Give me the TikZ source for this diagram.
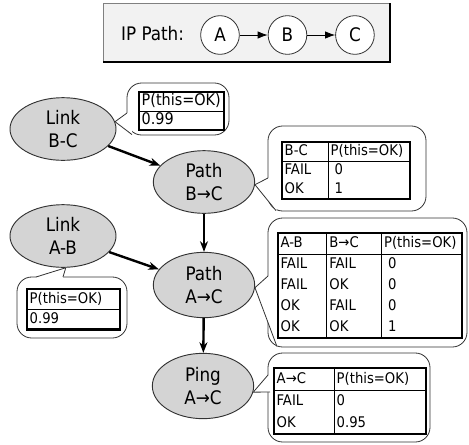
\documentclass[tikz,border=0pt]{standalone}
\usepackage{fontspec}
\setmainfont{DejaVu Sans Condensed}
\usepackage{tikz}
\usetikzlibrary{shapes.geometric,arrows.meta,positioning}
\tikzset{every picture/.style={line width=0.75pt}}
\definecolor{nodegray}{RGB}{212,212,212}
\definecolor{boxgray}{RGB}{242,242,242}
\definecolor{edgegray}{RGB}{50,50,50}
\setlength{\tabcolsep}{2pt}
\tikzset{
  var/.style={ellipse, draw=edgegray, line width=0.7pt, fill=nodegray, inner sep=0pt,
    align=center, font=\fontsize{14}{17}\selectfont},
  hop/.style={circle, draw=edgegray, fill=white, line width=0.6pt, minimum size=29pt,
    inner sep=0pt, font=\fontsize{14}{17}\selectfont},
  dep/.style={-{Stealth[length=8pt,width=6pt]}, line width=1.8pt},
  hoparrow/.style={-{Latex[length=7.5pt,width=5.5pt]}, line width=0.6pt},
  bubble/.style={draw=edgegray, fill=white, line width=0.6pt, rounded corners=11pt},
  tip/.style={draw=edgegray, line width=0.6pt},
  cpt/.style={draw, line width=1.6pt, inner sep=0pt, anchor=north west,
    font=\fontsize{11}{13}\selectfont},
}

\begin{document}
\begin{tikzpicture}[x=0.75pt,y=-0.75pt]
\useasboundingbox (0,0) rectangle (469,444);
% the IP path
\draw[fill=boxgray, draw=gray] (103,3) rectangle (390,62);
\draw[line width=1pt] (103,62) -- (390,62) -- (390,3);
\node[anchor=east, font=\fontsize{14}{17}\selectfont] (iplabel) at (189,34) {IP Path:};
\node[hop] (a) at (220,35) {A};
\node[hop, right=21pt of a] (b) {B};
\node[hop, right=21pt of b] (c) {C};
\draw[hoparrow] (a) -- (b);
\draw[hoparrow] (b) -- (c);
%
% variables
\node[var, minimum width=79.5pt, minimum height=47pt] (lbc) at (63,129) {Link\\B-C};
\node[var, minimum width=76pt, minimum height=47pt] (pbc) at (204,182) {Path\\B→C};
\node[var, minimum width=79.5pt, minimum height=47pt] (lab) at (63,236) {Link\\A-B};
\node[var, minimum width=76pt, minimum height=49pt] (pac) at (204,285) {Path\\A→C};
\node[var, minimum width=76pt, minimum height=49pt] (ping) at (203,386) {Ping\\A→C};
\draw[dep] (lbc) -- (pbc);
\draw[dep] (lab) -- (pac);
\draw[dep] (pbc) -- (pac);
\draw[dep] (pac) -- (ping);
%
% callouts
\draw[bubble] (127,83) rectangle (229,135);
\fill[white] (127.5,113) -- (lbc.8) -- (132,134.5) -- (132,130) -- (130,113) -- cycle;
\draw[tip] (127,113) -- (lbc.8) -- (132,134.6);
\node[cpt, font=\fontsize{12}{14}\selectfont] (tlbc) at (138,91)
  {\def\arraystretch{1.0}\begin{tabular}{p{60pt}} P(this=OK)\\\hline 0.99\end{tabular}};
%
\draw[bubble] (268,126) rectangle (426,211);
\fill[white] (268.5,178) -- (pbc.-3) -- (276,210.5) -- (280,203) -- (272,178) -- cycle;
\draw[tip] (268,178) -- (pbc.-3) -- (276,210.6);
\node[cpt] (tpbc) at (281,141)
  {\def\arraystretch{1.08}\begin{tabular}{p{30.5pt}|p{57.5pt}} B-C & P(this=OK)\\\hline
   FAIL & \hspace{3pt}0\\ OK & \hspace{3pt}1\end{tabular}};
%
\draw[bubble] (268,218) rectangle (467,347);
\fill[white] (268.5,276) -- (pac.-3) -- (277,346.5) -- (282,336) -- (272,276) -- cycle;
\draw[tip] (268,276) -- (pac.-3) -- (277,346.6);
\node[cpt] (tpac) at (277,232)
  {\def\arraystretch{1.2}\begin{tabular}{p{32.5pt}|p{37pt}|p{56.5pt}} A-B & B→C & P(this=OK)\\\hline
   FAIL & FAIL & \hspace{3pt}0\\ FAIL & OK & \hspace{3pt}0\\ OK & FAIL & \hspace{3pt}0\\
   OK & OK & \hspace{3pt}1\end{tabular}};
%
\draw[bubble] (268,353) rectangle (430,442);
\fill[white] (268.5,375) -- (ping.-7) -- (268.5,392) -- (272,392) -- (272,375) -- cycle;
\draw[tip] (268,375) -- (ping.-7) -- (270,392);
\node[cpt] (tping) at (273,367)
  {\def\arraystretch{1.25}\begin{tabular}{p{41pt}|p{65pt}} A→C & P(this=OK)\\\hline
   FAIL & 0\\ OK & 0.95\end{tabular}};
%
\draw[bubble] (17,277) rectangle (127,338);
\fill[white] (36,277.5) -- (lab.-85) -- (63,277.5) -- (63,281) -- (36,281) -- cycle;
\draw[tip] (36,277) -- (lab.-85) -- (63,277);
\node[cpt] (tlab) at (26,288)
  {\def\arraystretch{1.15}\begin{tabular}{p{66pt}} P(this=OK)\\\hline 0.99\end{tabular}};
\end{tikzpicture}
\end{document}
